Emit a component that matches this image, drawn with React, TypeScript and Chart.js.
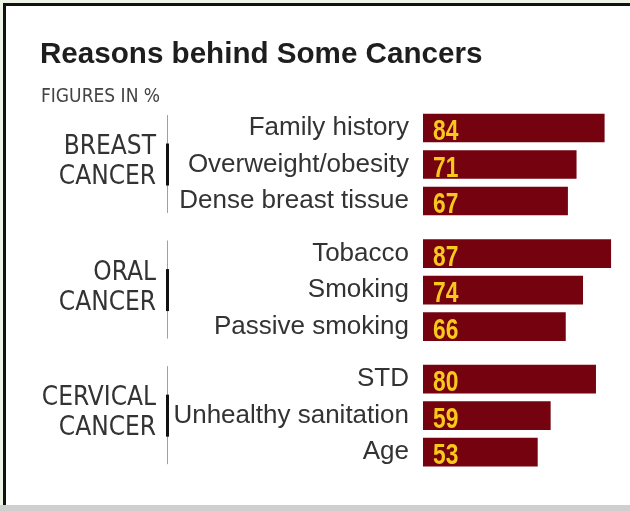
import React, { useEffect, useRef } from "react";
import { Chart, registerables } from "chart.js";

Chart.register(...registerables);

const title = "Reasons behind Some Cancers";
const subtitle = "FIGURES IN %";
const groupNames: string[][] = [
  ["BREAST", "CANCER"],
  ["ORAL", "CANCER"],
  ["CERVICAL", "CANCER"],
];
const categories = [
  "Family history",
  "Overweight/obesity",
  "Dense breast tissue",
  "Tobacco",
  "Smoking",
  "Passive smoking",
  "STD",
  "Unhealthy sanitation",
  "Age",
];
const values = [84, 71, 67, 87, 74, 66, 80, 59, 53];
const groupOf = [0, 0, 0, 1, 1, 1, 2, 2, 2];

const GROUP_GAP = 0.44;
const positions = categories.map((_, i) => i + groupOf[i] * GROUP_GAP);

const BAR = "#74020f";
const VALUE_COLOR = "#f8c81c";
const TEXT = "#333333";
const NARROW = "'DejaVu Sans Condensed', 'Roboto', sans-serif";
const SANS = "'Liberation Sans', Arial, sans-serif";

const overlay = {
  id: "overlay",
  afterDraw(chart: any) {
    const ctx = chart.ctx;
    const meta = chart.getDatasetMeta(0);
    ctx.save();
    // title
    ctx.fillStyle = "#1e1e1e";
    ctx.textAlign = "left";
    ctx.textBaseline = "alphabetic";
    ctx.font = `bold 29.6px ${SANS}`;
    ctx.fillText(title, 40, 63);
    ctx.fillStyle = "#444444";
    ctx.font = `19px ${NARROW}`;
    ctx.fillText(subtitle, 41, 102);

    // value labels (condensed bold digits)
    ctx.font = `bold 30px ${SANS}`;
    ctx.fillStyle = VALUE_COLOR;
    meta.data.forEach((el: any, i: number) => {
      ctx.save();
      ctx.translate(el.base + 10, el.y + 12);
      ctx.scale(0.76, 1);
      ctx.fillText(String(values[i]), 0, 0);
      ctx.restore();
    });

    // group labels and brackets
    groupNames.forEach((lines, g) => {
      const idx = groupOf.map((gg, i) => (gg === g ? i : -1)).filter((i) => i >= 0);
      const first = meta.data[idx[0]];
      const last = meta.data[idx[idx.length - 1]];
      const center = (first.y + last.y) / 2;
      ctx.strokeStyle = "#a0a0a0";
      ctx.lineWidth = 1;
      ctx.beginPath();
      ctx.moveTo(167.5, first.y - 13);
      ctx.lineTo(167.5, last.y + 12);
      ctx.stroke();
      ctx.strokeStyle = "#111111";
      ctx.lineWidth = 3;
      ctx.beginPath();
      ctx.moveTo(167.5, center - 21);
      ctx.lineTo(167.5, center + 21);
      ctx.stroke();
      ctx.fillStyle = TEXT;
      ctx.font = `26px ${NARROW}`;
      ctx.textAlign = "right";
      ctx.textBaseline = "middle";
      ctx.fillText(lines[0], 156, center - 17);
      ctx.fillText(lines[1], 156, center + 13);
      ctx.textAlign = "left";
      ctx.textBaseline = "alphabetic";
    });
    ctx.restore();
  },
};

export default function App() {
  const ref = useRef<HTMLCanvasElement | null>(null);
  useEffect(() => {
    document.body.style.margin = "0";
    const canvas = ref.current;
    if (!canvas) return;
    const chart = new Chart(canvas, {
      type: "bar",
      data: {
        datasets: [
          {
            data: values.map((v, i) => ({ x: v, y: positions[i] })),
            backgroundColor: BAR,
            barThickness: 28,
          },
        ],
      },
      options: {
        indexAxis: "y",
        animation: false,
        responsive: false,
        maintainAspectRatio: false,
        layout: { padding: { top: 109.75, bottom: 40.6, left: 0, right: 2 } },
        plugins: { legend: { display: false }, tooltip: { enabled: false } },
        scales: {
          x: { type: "linear", min: 0, max: 95, display: false },
          y: {
            type: "linear",
            reverse: true,
            offset: false,
            min: -0.5,
            max: positions[positions.length - 1] + 0.5,
            grid: { display: false, drawTicks: false, tickLength: 0 },
            border: { display: false },
            afterBuildTicks: (scale: any) => {
              scale.ticks = positions.map((v) => ({ value: v }));
            },
            afterFit: (scale: any) => {
              scale.width = 423;
              scale.paddingTop = 0;
              scale.paddingBottom = 0;
            },
            ticks: {
              autoSkip: false,
              padding: 14,
              color: TEXT,
              font: { family: SANS, size: 26 },
              callback: (_v: any, i: number) => categories[i],
            },
          },
        },
      } as any,
      plugins: [overlay],
    });
    return () => chart.destroy();
  }, []);
  return (
    <div style={{ position: "relative", width: 630, height: 511, background: "#eef4e6", overflow: "hidden" }}>
      <div
        style={{
          position: "absolute",
          left: 3,
          top: 3,
          right: 0,
          bottom: 6,
          background: "#ffffff",
          borderLeft: "3px solid #111",
          borderTop: "3px solid #111",
        }}
      />
      <div style={{ position: "absolute", left: 0, right: 0, bottom: 0, height: 6, background: "#cfcfcf" }} />
      <canvas ref={ref} width={630} height={511} style={{ position: "absolute", left: 0, top: 0, width: 630, height: 511 }} />
    </div>
  );
}
